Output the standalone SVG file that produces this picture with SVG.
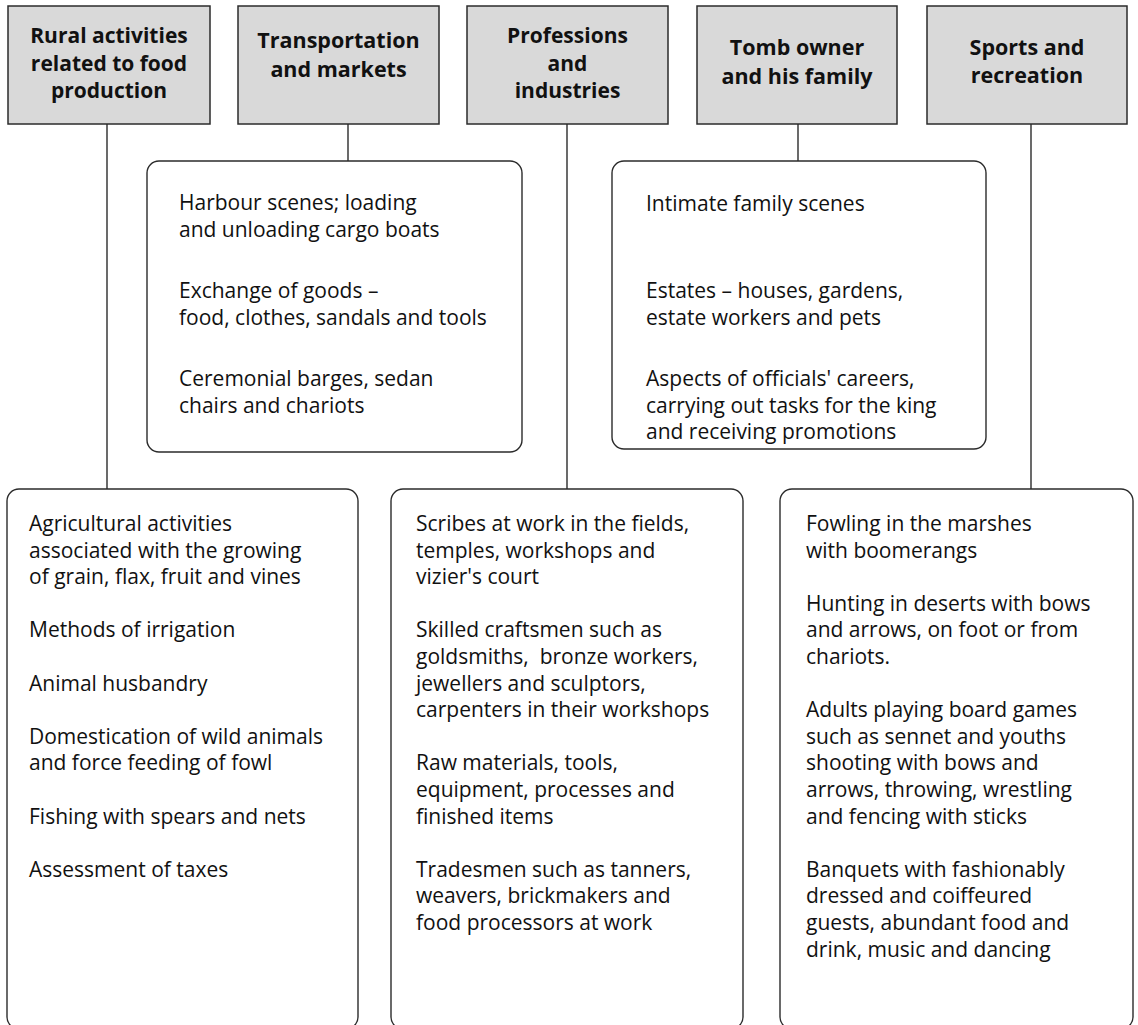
<svg xmlns="http://www.w3.org/2000/svg" width="1138" height="1025" viewBox="0 0 1138 1025">
<style>
.hdr{fill:#d9d9d9;stroke:#2b2b2b;stroke-width:1.5}
.box{fill:#fff;stroke:#2b2b2b;stroke-width:1.4}
.con{stroke:#2b2b2b;stroke-width:1.4;fill:none}
.ht{font-family:"Open Sans","Noto Sans",sans-serif;font-weight:bold;font-size:21.5px;fill:#111;text-anchor:middle}
.ht3{font-size:21px}
.bt{font-family:"Open Sans","Noto Sans",sans-serif;font-size:21px;fill:#111}
</style>
<rect width="1138" height="1025" fill="#fff"/>
<g id="connectors">
<line class="con" x1="107" y1="124" x2="107" y2="489"/>
<line class="con" x1="348" y1="124" x2="348" y2="161"/>
<line class="con" x1="567" y1="124" x2="567" y2="489"/>
<line class="con" x1="798" y1="124" x2="798" y2="161"/>
<line class="con" x1="1031" y1="124" x2="1031" y2="489"/>
</g>
<g id="h1">
<rect class="hdr" x="8" y="6" width="202" height="118"/>
<text class="ht ht3" x="109" y="43">Rural activities</text>
<text class="ht ht3" x="109" y="70.5">related to food</text>
<text class="ht ht3" x="109" y="98">production</text>
</g>
<g id="h2">
<rect class="hdr" x="238" y="6" width="201" height="118"/>
<text class="ht" x="338.5" y="48">Transportation</text>
<text class="ht" x="338.5" y="77">and markets</text>
</g>
<g id="h3">
<rect class="hdr" x="467" y="6" width="201" height="118"/>
<text class="ht ht3" x="567.5" y="43">Professions</text>
<text class="ht ht3" x="567.5" y="70.5">and</text>
<text class="ht ht3" x="567.5" y="98">industries</text>
</g>
<g id="h4">
<rect class="hdr" x="697" y="6" width="200" height="118"/>
<text class="ht" x="797" y="55">Tomb owner</text>
<text class="ht" x="797" y="84">and his family</text>
</g>
<g id="h5">
<rect class="hdr" x="927" y="6" width="200" height="118"/>
<text class="ht" x="1027" y="55">Sports and</text>
<text class="ht" x="1027" y="83">recreation</text>
</g>
<g id="transport">
<rect class="box" x="147" y="161" width="375" height="291" rx="12"/>
<text class="bt" x="179" y="210">Harbour scenes; loading</text>
<text class="bt" x="179" y="236.6">and unloading cargo boats</text>
<text class="bt" x="179" y="298">Exchange of goods –</text>
<text class="bt" x="179" y="324.6">food, clothes, sandals and tools</text>
<text class="bt" x="179" y="386">Ceremonial barges, sedan</text>
<text class="bt" x="179" y="412.6">chairs and chariots</text>
</g>
<g id="tomb">
<rect class="box" x="612" y="161" width="374" height="288" rx="12"/>
<text class="bt" x="646" y="211">Intimate family scenes</text>
<text class="bt" x="646" y="298">Estates – houses, gardens,</text>
<text class="bt" x="646" y="324.6">estate workers and pets</text>
<text class="bt" x="646" y="386">Aspects of officials' careers,</text>
<text class="bt" x="646" y="412.6">carrying out tasks for the king</text>
<text class="bt" x="646" y="439.2">and receiving promotions</text>
</g>
<g id="rural">
<rect class="box" x="7" y="489" width="351" height="540" rx="12"/>
<text class="bt" x="29" y="531">Agricultural activities</text>
<text class="bt" x="29" y="557.6">associated with the growing</text>
<text class="bt" x="29" y="584.2">of grain, flax, fruit and vines</text>
<text class="bt" x="29" y="637.4">Methods of irrigation</text>
<text class="bt" x="29" y="690.6">Animal husbandry</text>
<text class="bt" x="29" y="743.8">Domestication of wild animals</text>
<text class="bt" x="29" y="770.4">and force feeding of fowl</text>
<text class="bt" x="29" y="823.6">Fishing with spears and nets</text>
<text class="bt" x="29" y="876.8">Assessment of taxes</text>
</g>
<g id="professions">
<rect class="box" x="391" y="489" width="352" height="540" rx="12"/>
<text class="bt" x="416" y="531">Scribes at work in the fields,</text>
<text class="bt" x="416" y="557.6">temples, workshops and</text>
<text class="bt" x="416" y="584.2">vizier's court</text>
<text class="bt" x="416" y="637.4">Skilled craftsmen such as</text>
<text class="bt" x="416" y="664" style="white-space:pre">goldsmiths,  bronze workers,</text>
<text class="bt" x="416" y="690.6">jewellers and sculptors,</text>
<text class="bt" x="416" y="717.2">carpenters in their workshops</text>
<text class="bt" x="416" y="770.4">Raw materials, tools,</text>
<text class="bt" x="416" y="797">equipment, processes and</text>
<text class="bt" x="416" y="823.6">finished items</text>
<text class="bt" x="416" y="876.8">Tradesmen such as tanners,</text>
<text class="bt" x="416" y="903.4">weavers, brickmakers and</text>
<text class="bt" x="416" y="930">food processors at work</text>
</g>
<g id="sports">
<rect class="box" x="780" y="489" width="353" height="540" rx="12"/>
<text class="bt" x="806" y="531">Fowling in the marshes</text>
<text class="bt" x="806" y="557.6">with boomerangs</text>
<text class="bt" x="806" y="610.8">Hunting in deserts with bows</text>
<text class="bt" x="806" y="637.4">and arrows, on foot or from</text>
<text class="bt" x="806" y="664">chariots.</text>
<text class="bt" x="806" y="717.2">Adults playing board games</text>
<text class="bt" x="806" y="743.8">such as sennet and youths</text>
<text class="bt" x="806" y="770.4">shooting with bows and</text>
<text class="bt" x="806" y="797">arrows, throwing, wrestling</text>
<text class="bt" x="806" y="823.6">and fencing with sticks</text>
<text class="bt" x="806" y="876.8">Banquets with fashionably</text>
<text class="bt" x="806" y="903.4">dressed and coiffeured</text>
<text class="bt" x="806" y="930">guests, abundant food and</text>
<text class="bt" x="806" y="956.6">drink, music and dancing</text>
</g>
</svg>
